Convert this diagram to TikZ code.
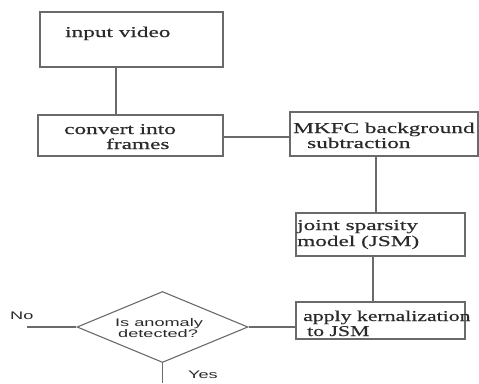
\documentclass[tikz,border=0pt]{standalone}
\usepackage{fontspec}
\usetikzlibrary{shapes.geometric}
\newfontfamily\boxfont[FakeStretch=1.55,FakeBold=0.4]{Liberation Serif}
\newfontfamily\boxfontn[FakeStretch=1.45,FakeBold=0.4]{Liberation Serif}
\newfontfamily\dfont[FakeStretch=1.65]{Liberation Sans}
\definecolor{ln}{HTML}{6A6A6A}
\definecolor{tx}{HTML}{2A2A2A}
\begin{document}
\begin{tikzpicture}[x=1pt,y=-1pt,
  boxst/.style={draw=ln,line width=1.1pt,rectangle,inner sep=0pt},
  conn/.style={draw=ln,line width=1.1pt},
  btxt/.style={anchor=base west,inner sep=0pt,text=tx,font=\boxfont\fontsize{15}{17}\selectfont},
  btxtn/.style={anchor=base west,inner sep=0pt,text=tx,font=\boxfontn\fontsize{15}{17}\selectfont},
  dtxt/.style={anchor=base west,inner sep=0pt,text=tx,font=\dfont\fontsize{11}{13}\selectfont}]
\useasboundingbox (0,0) rectangle (479,383);
% boxes
\node[boxst,minimum width=183pt,minimum height=55pt] (iv) at (131.5,39.5) {};
\node[boxst,minimum width=185pt,minimum height=41pt] (cf) at (130.5,135.5) {};
\node[boxst,minimum width=188pt,minimum height=44pt] (mk) at (384,134) {};
\node[boxst,minimum width=169pt,minimum height=43pt] (js) at (380.5,234.5) {};
\node[boxst,minimum width=169pt,minimum height=37pt] (ak) at (380.5,320.5) {};
\node[draw=ln,line width=1.1pt,diamond,inner sep=0pt,minimum width=171pt,minimum height=71pt] (dm) at (162.5,327) {};
% texts
\node[btxt] (t1) at (65,37) {input video};
\node[btxt] (t2) at (64,134) {convert into};
\node[btxt] (t3) at (106,149) {frames};
\node[btxt] (t4) at (293,133) {MKFC background};
\node[btxt] (t5) at (307,148) {subtraction};
\node[btxt] (t6) at (297,230) {joint sparsity};
\node[btxt] (t7) at (297,246) {model (JSM)};
\node[btxtn] (t8) at (303,321) {apply kernalization};
\node[btxtn] (t9) at (307,336) {to JSM};
\node[dtxt] (d1) at (115,326) {Is anomaly};
\node[dtxt] (d2) at (118,337) {detected?};
\node[dtxt] (no) at (10,319) {No};
\node[dtxt] (yes) at (188,378) {Yes};
% helper coordinates
\coordinate (x1) at (116,0);
\coordinate (y1) at (0,137);
\coordinate (x2) at (376,0);
\coordinate (x3) at (373,0);
\coordinate (noend) at (27,327);
\coordinate (yesend) at (162.5,383);
% connectors
\draw[conn] (iv.south -| x1) -- (cf.north -| x1);
\draw[conn] (cf.east |- y1) -- (mk.west |- y1);
\draw[conn] (mk.south -| x2) -- (js.north -| x2);
\draw[conn] (js.south -| x3) -- (ak.north -| x3);
\draw[conn] (dm.east) -- (dm.east -| ak.west);
\draw[conn] (dm.west) -- (noend);
\draw[conn] (dm.south) -- (yesend);
\end{tikzpicture}
\end{document}
